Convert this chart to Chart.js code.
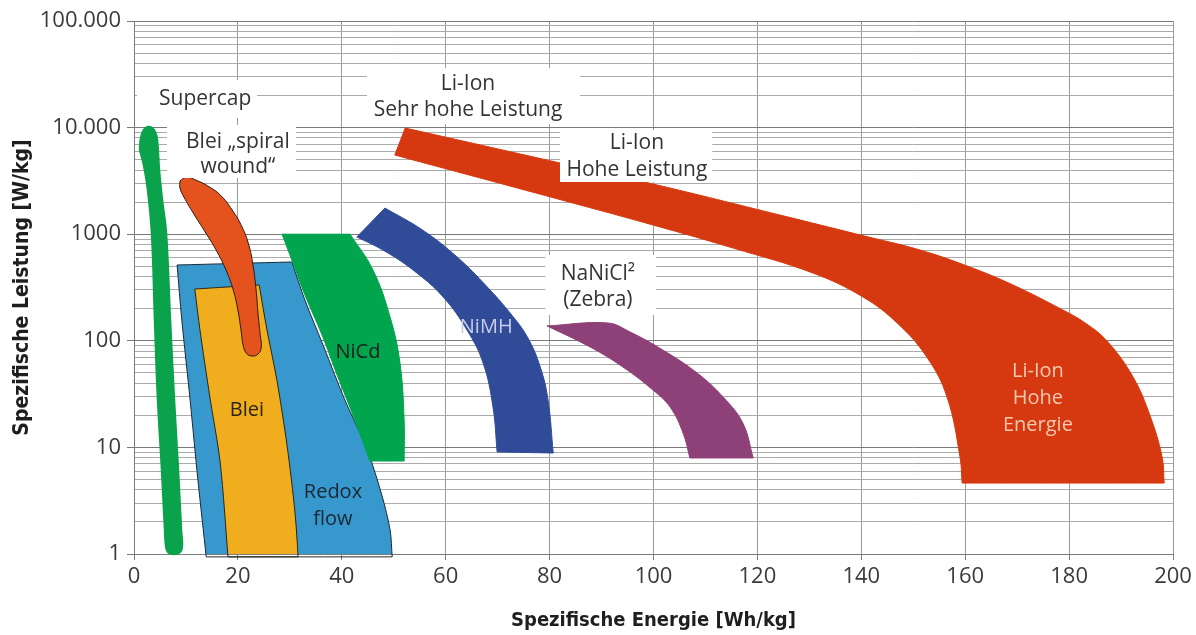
<!DOCTYPE html>
<html>
<head>
<meta charset="utf-8">
<script src="https://cdn.jsdelivr.net/npm/chart.js@4/dist/chart.umd.min.js"></script>
<style>
  html, body { margin: 0; padding: 0; background: #fff; }
  #wrap { width: 1196px; height: 635px; position: relative; }
</style>
</head>
<body>
<div id="wrap"><canvas id="ragone"></canvas></div>
<script>
// Ragone diagram: specific power [W/kg] (log) over specific energy [Wh/kg]

// Axis ticks
const xTickValues = [0, 20, 40, 60, 80, 100, 120, 140, 160, 180, 200];
const yTickValues = [
  1, 2, 3, 4, 5, 6, 7, 8, 9,
  10, 20, 30, 40, 50, 60, 70, 80, 90,
  100, 200, 300, 400, 500, 600, 700, 800, 900,
  1000, 2000, 3000, 4000, 5000, 6000, 7000, 8000, 9000,
  10000, 20000, 30000, 40000, 50000, 60000, 70000, 80000, 90000,
  100000
];
const yDecades = [1, 10, 100, 1000, 10000, 100000];
const yDecadeLabels = ['1', '10', '100', '1000', '10.000', '100.000'];

// Technology regions as closed outlines [energy Wh/kg, power W/kg].
// A vertex listed twice in a row is a sharp corner of the outline.
const supercap = [
  [1.15, 6166], [1.35, 7985], [1.92, 9490], [2.69, 10130], [3.46, 9910],
  [4.04, 9095], [4.43, 7650], [4.81, 4000], [5.39, 2094], [6.16, 1026],
  [6.93, 157], [7.70, 27.8], [8.47, 6.14], [9.05, 1.68], [9.24, 1.21],
  [8.85, 1.044], [7.70, 1.0], [6.54, 1.044], [6.16, 1.21], [5.97, 1.68],
  [5.39, 6.14], [4.62, 27.8], [4.04, 157], [3.46, 1026], [2.69, 2600],
  [1.92, 4457], [1.15, 6166]
];
const redoxFlow = [
  [8.3, 514], [8.3, 514], [9.2, 157], [10.8, 27.8], [12.3, 4.95], [13.9, 0.94], [13.9, 0.94],
  [49.7, 0.94], [49.7, 0.94], [49.3, 1.68], [47.7, 3.58], [44.9, 9.45], [40.6, 27.8],
  [36.4, 91], [32.9, 241], [30.4, 549], [30.4, 549], [8.3, 514]
];
const blei = [
  [11.7, 306], [11.7, 306], [12.7, 126], [14.6, 29.7], [16.6, 7.14], [18.1, 0.94], [18.1, 0.94],
  [31.6, 0.94], [31.6, 0.94], [31.0, 2.42], [29.5, 10.1], [27.5, 42.9], [25.6, 126],
  [24.1, 334], [24.1, 334], [11.7, 306]
];
const bleiSpiral = [
  [8.85, 3155], [10.0, 3440], [11.9, 3220], [14.2, 2833], [16.6, 2333],
  [18.9, 1687], [20.8, 1169], [22.1, 792], [22.9, 514], [23.5, 300],
  [23.9, 175], [24.3, 113], [24.5, 87.5], [23.9, 75.2], [22.7, 72.0],
  [21.6, 76.8], [21.0, 91.4], [20.6, 126], [20.0, 194.5], [19.1, 300],
  [17.7, 462], [15.8, 711], [13.7, 1049], [11.4, 1580], [9.6, 2233],
  [8.85, 2713], [8.85, 3155]
];
const niCd = [
  [28.5, 1000], [28.5, 1000], [41.6, 1000], [41.6, 1000], [46.0, 462], [49.3, 167],
  [51.2, 61.9], [52.0, 18.1], [52.0, 7.45], [52.0, 7.45], [45.4, 7.45], [45.4, 7.45],
  [42.5, 18.1], [39.1, 47.8], [36.2, 113], [32.9, 269], [30.6, 537], [28.5, 1000]
];
const niMH = [
  [48.3, 1760], [48.3, 1760], [55.6, 1090], [62.2, 611], [68.0, 320], [72.4, 182],
  [75.7, 109], [78.2, 56.8], [79.7, 27.8], [80.7, 8.86], [80.7, 8.86],
  [69.9, 9.06], [69.9, 9.06], [69.1, 23.9], [67.2, 61.9], [64.1, 126], [59.5, 258],
  [53.7, 462], [47.9, 711], [42.9, 942], [42.9, 942], [48.3, 1760]
];
const zebra = [
  [79.5, 138], [79.5, 138], [91.2, 147], [95.5, 121], [101.8, 82], [108.4, 49.9],
  [113.4, 29.7], [117.2, 16.9], [119.2, 7.96], [119.2, 7.96], [107.0, 7.96], [107.0, 7.96],
  [105.7, 13.6], [103.2, 23.9], [99.9, 34.5], [94.1, 56.8], [87.8, 87.5], [79.5, 138]
];
const liIon = [
  [52.2, 9910], [52.2, 9910], [82.0, 4660], [99.9, 2960], [124.4, 1510], [139.8, 983],
  [151.3, 711], [160.9, 492], [169.2, 334], [178.8, 194.5], [183.1, 147], [187.3, 99.5],
  [192.3, 45.8], [195.6, 19.7], [197.9, 8.13], [198.3, 4.63], [198.3, 4.63],
  [159.4, 4.63], [159.4, 4.63],
  [159.0, 8.13], [156.5, 29.7], [152.6, 70.5], [146.9, 147], [140.3, 258],
  [130.7, 432], [115.3, 742], [99.9, 1220], [79.5, 2280], [50.2, 5530], [50.2, 5530],
  [52.2, 9910]
];

// Region styling, bottom layer first
const regions = [
  { name: 'Supercap', pts: supercap, fill: '#0ba24c', stroke: '#0ba24c', width: 2.5, tension: 0.4 },
  { name: 'Redox flow', pts: redoxFlow, fill: '#3698cc', stroke: '#1f2a33', width: 1, tension: 0.3 },
  { name: 'Blei', pts: blei, fill: '#f0ae1f', stroke: '#2b2515', width: 1, tension: 0.3 },
  { name: 'Blei spiral wound', pts: bleiSpiral, fill: '#e4531d', stroke: '#2e1a12', width: 1, tension: 0.45 },
  { name: 'NiCd', pts: niCd, fill: '#00a54d', stroke: '#00a54d', width: 1, tension: 0.4 },
  { name: 'NiMH', pts: niMH, fill: '#304b98', stroke: '#304b98', width: 1, tension: 0.4 },
  { name: 'NaNiCl', pts: zebra, fill: '#8e4179', stroke: '#8e4179', width: 1, tension: 0.4 },
  { name: 'Li-Ion', pts: liIon, fill: '#d6390f', stroke: '#d6390f', width: 1, tension: 0.4 }
];

// Captions on white plates: text line centres and plate corners in data units
const boxedLabels = [
  { lines: ['Supercap'], x: 13.7, y: [18550], box: [0.6, 23.7, 27980, 12300] },
  { lines: ['Blei \u201Espiral', 'wound\u201C'], x: 20.0, y: [7325, 4270], box: [6.35, 31.2, 10570, 3370] },
  { lines: ['Li-Ion', 'Sehr hohe Leistung'], x: 64.3, y: [25640, 14620], box: [44.85, 85.85, 36240, 10810] },
  { lines: ['Li-Ion', 'Hohe Leistung'], x: 96.8, y: [7170, 4000], box: [82.0, 111.3, 9490, 3090] },
  { lines: ['NaNiCl\u00B2', '(Zebra)'], x: 89.3, y: [423, 241], box: [79.2, 100.5, 638, 175] }
];
// Captions printed directly on the regions
const innerLabels = [
  { lines: ['NiCd'], x: 43.1, y: [78.5], color: '#1d1d1d' },
  { lines: ['Blei'], x: 21.75, y: [22.4], color: '#2a2410' },
  { lines: ['Redox', 'flow'], x: 38.3, y: [3.81, 2.13], color: '#1b2733' },
  { lines: ['NiMH'], x: 67.8, y: [135], color: '#c8cbe8' },
  { lines: ['Li-Ion', 'Hohe', 'Energie'], x: 174.0, y: [52.1, 29.1, 16.2], color: '#f8c8b2' }
];

const TEXT_FONT = '"Open Sans", "DejaVu Sans", sans-serif';
const TITLE_FONT = '"DejaVu Sans Condensed", "DejaVu Sans", sans-serif';

const captionPlugin = {
  id: 'captions',
  afterDatasetsDraw(chart) {
    const { ctx } = chart;
    const sx = chart.scales.x, sy = chart.scales.y;
    ctx.save();
    ctx.textAlign = 'center';
    ctx.textBaseline = 'middle';
    ctx.font = '21px ' + TEXT_FONT;
    boxedLabels.forEach(l => {
      const x0 = sx.getPixelForValue(l.box[0]);
      const x1 = sx.getPixelForValue(l.box[1]);
      const y0 = sy.getPixelForValue(l.box[2]);
      const y1 = sy.getPixelForValue(l.box[3]);
      ctx.fillStyle = '#ffffff';
      ctx.fillRect(x0, y0, x1 - x0, y1 - y0);
      ctx.fillStyle = '#343434';
      l.lines.forEach((t, i) => {
        ctx.fillText(t, sx.getPixelForValue(l.x), sy.getPixelForValue(l.y[i]));
      });
    });
    ctx.font = '20px ' + TEXT_FONT;
    innerLabels.forEach(l => {
      ctx.fillStyle = l.color;
      l.lines.forEach((t, i) => {
        ctx.fillText(t, sx.getPixelForValue(l.x), sy.getPixelForValue(l.y[i]));
      });
    });
    ctx.restore();
  }
};

const isDecade = v => yDecades.indexOf(v) >= 0;

new Chart(document.getElementById('ragone'), {
  type: 'line',
  data: {
    datasets: regions.map((r, i) => ({
      label: r.name,
      data: r.pts.map(p => ({ x: p[0], y: p[1] })),
      backgroundColor: r.fill,
      borderColor: r.stroke,
      borderWidth: r.width,
      borderJoinStyle: 'round',
      fill: 'shape',
      tension: r.tension,
      capBezierPoints: false,
      pointRadius: 0,
      clip: false,
      order: regions.length - i
    }))
  },
  options: {
    responsive: true,
    maintainAspectRatio: false,
    animation: false,
    events: [],
    layout: { padding: { left: 0, top: 21, right: 23, bottom: 0 } },
    plugins: {
      legend: { display: false },
      tooltip: { enabled: false },
      filler: { drawTime: 'beforeDatasetDraw' }
    },
    scales: {
      x: {
        type: 'linear',
        min: 0,
        max: 200,
        afterBuildTicks: s => { s.ticks = xTickValues.map(v => ({ value: v })); },
        afterFit: s => { s.height = 81; },
        ticks: {
          autoSkip: false,
          maxRotation: 0,
          padding: 4,
          color: '#3a3a3a',
          font: { family: TEXT_FONT, size: 22 }
        },
        grid: { color: '#9c9c9c', lineWidth: 1, tickLength: 6, tickColor: '#7c7c7c' },
        border: { color: '#7c7c7c' },
        title: {
          display: true,
          text: 'Spezifische Energie [Wh/kg]',
          color: '#1e1e1e',
          font: { family: TITLE_FONT, size: 20, weight: 'bold' },
          padding: { top: 0, bottom: 2 }
        }
      },
      y: {
        type: 'logarithmic',
        min: 1,
        max: 100000,
        afterBuildTicks: s => { s.ticks = yTickValues.map(v => ({ value: v, major: isDecade(v) })); },
        afterFit: s => { s.width = 134; },
        ticks: {
          autoSkip: false,
          padding: 6,
          color: '#3a3a3a',
          font: { family: TEXT_FONT, size: 22 },
          callback: v => {
            const k = yDecades.indexOf(v);
            return k >= 0 ? yDecadeLabels[k] : '';
          }
        },
        grid: {
          lineWidth: 1,
          tickLength: 7,
          color: c => (c.tick && isDecade(c.tick.value)) ? '#7a7a7a' : '#ababab',
          tickColor: c => (c.tick && isDecade(c.tick.value)) ? '#7a7a7a' : 'rgba(0,0,0,0)'
        },
        border: { color: '#7c7c7c' },
        title: {
          display: true,
          text: 'Spezifische Leistung [W/kg]',
          color: '#1e1e1e',
          font: { family: TITLE_FONT, size: 21, weight: 'bold' },
          padding: { top: 10, bottom: 0 }
        }
      }
    }
  },
  plugins: [captionPlugin]
});
</script>
</body>
</html>
